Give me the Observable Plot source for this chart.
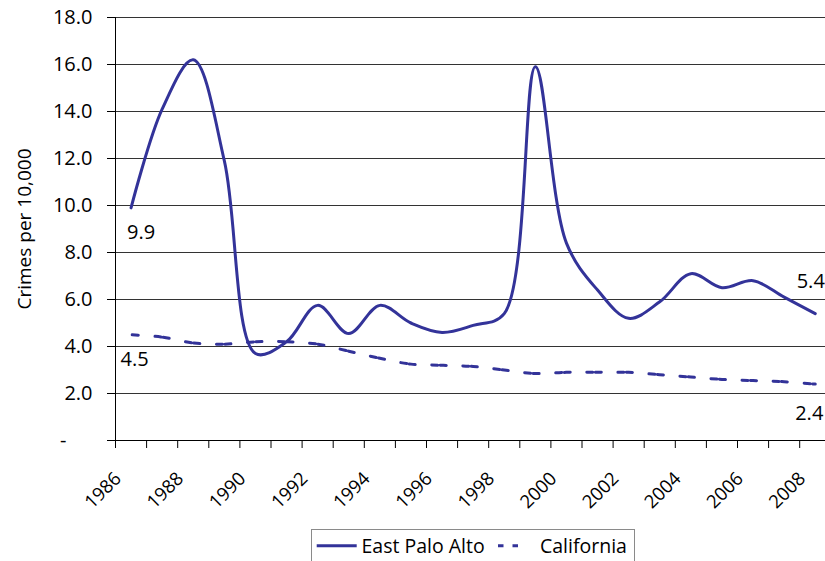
<!DOCTYPE html>
<html>
<head>
<meta charset="utf-8">
<script src="https://cdn.jsdelivr.net/npm/d3@7"></script>
<script src="https://cdn.jsdelivr.net/npm/@observablehq/plot@0.6"></script>
<style>
  html, body { margin: 0; padding: 0; background: #fff; overflow: hidden; }
  #wrap { position: relative; width: 825px; height: 561px; }
  #legend { position: absolute; left: 311px; top: 529px; }
</style>
</head>
<body>
<div id="wrap">
  <div id="chart"></div>
  <div id="legend"></div>
</div>
<script>
// Violent crime rate, crimes per 10,000 residents
const years = [1986, 1987, 1988, 1989, 1990, 1991, 1992, 1993, 1994, 1995, 1996, 1997,
               1998, 1999, 2000, 2001, 2002, 2003, 2004, 2005, 2006, 2007, 2008];
const eastPaloAlto = [9.9, 14.1, 16.2, 11.9, 3.7, 4.2, 5.75, 4.55, 5.75, 5.0, 4.6, 4.9,
                      5.4, 15.9, 8.4, 6.4, 5.2, 5.9, 7.1, 6.5, 6.8, 6.1, 5.4];
const california = [4.5, 4.4, 4.15, 4.1, 4.2, 4.2, 4.1, 3.8, 3.5, 3.25, 3.2, 3.15,
                    3.0, 2.85, 2.9, 2.9, 2.9, 2.8, 2.7, 2.6, 2.55, 2.5, 2.4];
const yTicks = [0, 2, 4, 6, 8, 10, 12, 14, 16, 18];
const yearLabels = [1986, 1988, 1990, 1992, 1994, 1996, 1998, 2000, 2002, 2004, 2006, 2008];
const seriesNames = ["East Palo Alto", "California"];

const color = "#333399";
const font = "'Open Sans', 'DejaVu Sans', sans-serif";
const fs = 20;

const epa = years.map((year, i) => ({year, value: eastPaloAlto[i]}));
const ca = years.map((year, i) => ({year, value: california[i]}));
// category boundaries: each year is a band centred on the year
const bounds = [years[0] - 0.5, ...years.map(y => y + 0.5)];
const nbsp = "\u00a0";

const first = (s) => [s[0]];
const last = (s) => [s[s.length - 1]];

const chart = Plot.plot({
  width: 825,
  height: 561,
  marginLeft: 115,
  marginRight: 0,
  marginTop: 17,
  marginBottom: 121,
  style: {fontFamily: font, fontSize: fs + "px", color: "#000", background: "#fff", overflow: "hidden"},
  x: {
    domain: [bounds[0], bounds[bounds.length - 1]],
    range: [115, 830.3],
    ticks: bounds,
    tickSize: 8,
    tickFormat: () => "",
    label: null
  },
  y: {
    domain: [0, 18],
    ticks: yTicks,
    tickSize: 8,
    tickPadding: 15,
    tickFormat: d => d === 0 ? "-" + nbsp.repeat(5) : d.toFixed(1),
    label: null
  },
  marks: [
    Plot.ruleY(yTicks.slice(1), {stroke: "#333", strokeWidth: 1}),
    Plot.ruleY([0], {stroke: "#000", strokeWidth: 1}),
    Plot.ruleX([bounds[0]], {stroke: "#000", strokeWidth: 1}),
    Plot.line(ca, {
      x: "year", y: "value", curve: "catmull-rom",
      stroke: color, strokeWidth: 3,
      strokeDasharray: "6,2.5,6,16.6", strokeDashoffset: 7.25
    }),
    Plot.line(epa, {
      x: "year", y: "value", curve: "catmull-rom",
      stroke: color, strokeWidth: 3
    }),
    // value labels at the ends of each series
    Plot.text(first(epa), {x: "year", y: "value", text: d => d.value.toFixed(1),
      textAnchor: "start", lineAnchor: "middle", dx: -4, dy: 25, fontSize: fs, fill: "#000"}),
    Plot.text(first(ca), {x: "year", y: "value", text: d => d.value.toFixed(1),
      textAnchor: "start", lineAnchor: "middle", dx: -10.5, dy: 24.5, fontSize: fs, fill: "#000"}),
    Plot.text(last(epa), {x: "year", y: "value", text: d => d.value.toFixed(1),
      textAnchor: "middle", lineAnchor: "middle", dx: -4.5, dy: -32, fontSize: fs, fill: "#000"}),
    Plot.text(last(ca), {x: "year", y: "value", text: d => d.value.toFixed(1),
      textAnchor: "middle", lineAnchor: "middle", dx: -6, dy: 29.5, fontSize: fs, fill: "#000"}),
    // rotated year labels
    Plot.text(yearLabels, {x: d => d, frameAnchor: "bottom", text: d => String(d),
      rotate: -45, textAnchor: "end", lineAnchor: "middle", dx: -13, dy: 35,
      fontSize: 18.5, fill: "#000"}),
    // y-axis title
    Plot.text(["Crimes per 10,000"], {frameAnchor: "left", text: d => d, rotate: -90,
      textAnchor: "middle", lineAnchor: "middle", dx: -91, fontSize: 19, fill: "#000"})
  ]
});
document.getElementById("chart").appendChild(chart);

// legend
const lg = d3.select("#legend").append("svg")
  .attr("width", 325).attr("height", 40)
  .style("display", "block")
  .style("font-family", font).style("font-size", "19.5px");
lg.append("rect").attr("x", 0.5).attr("y", 0.5).attr("width", 323).attr("height", 45)
  .attr("fill", "#fff").attr("stroke", "#8a8a8a");
lg.append("line").attr("x1", 5.7).attr("x2", 45.7).attr("y1", 16.7).attr("y2", 16.7)
  .attr("stroke", color).attr("stroke-width", 3);
lg.append("text").attr("x", 50.5).attr("y", 16.7).attr("dy", "0.35em").text(seriesNames[0]);
lg.append("line").attr("x1", 187).attr("x2", 207.5).attr("y1", 16.7).attr("y2", 16.7)
  .attr("stroke", color).attr("stroke-width", 3).attr("stroke-dasharray", "5.5,9");
lg.append("text").attr("x", 229).attr("y", 16.7).attr("dy", "0.35em").text(seriesNames[1]);
</script>
</body>
</html>
